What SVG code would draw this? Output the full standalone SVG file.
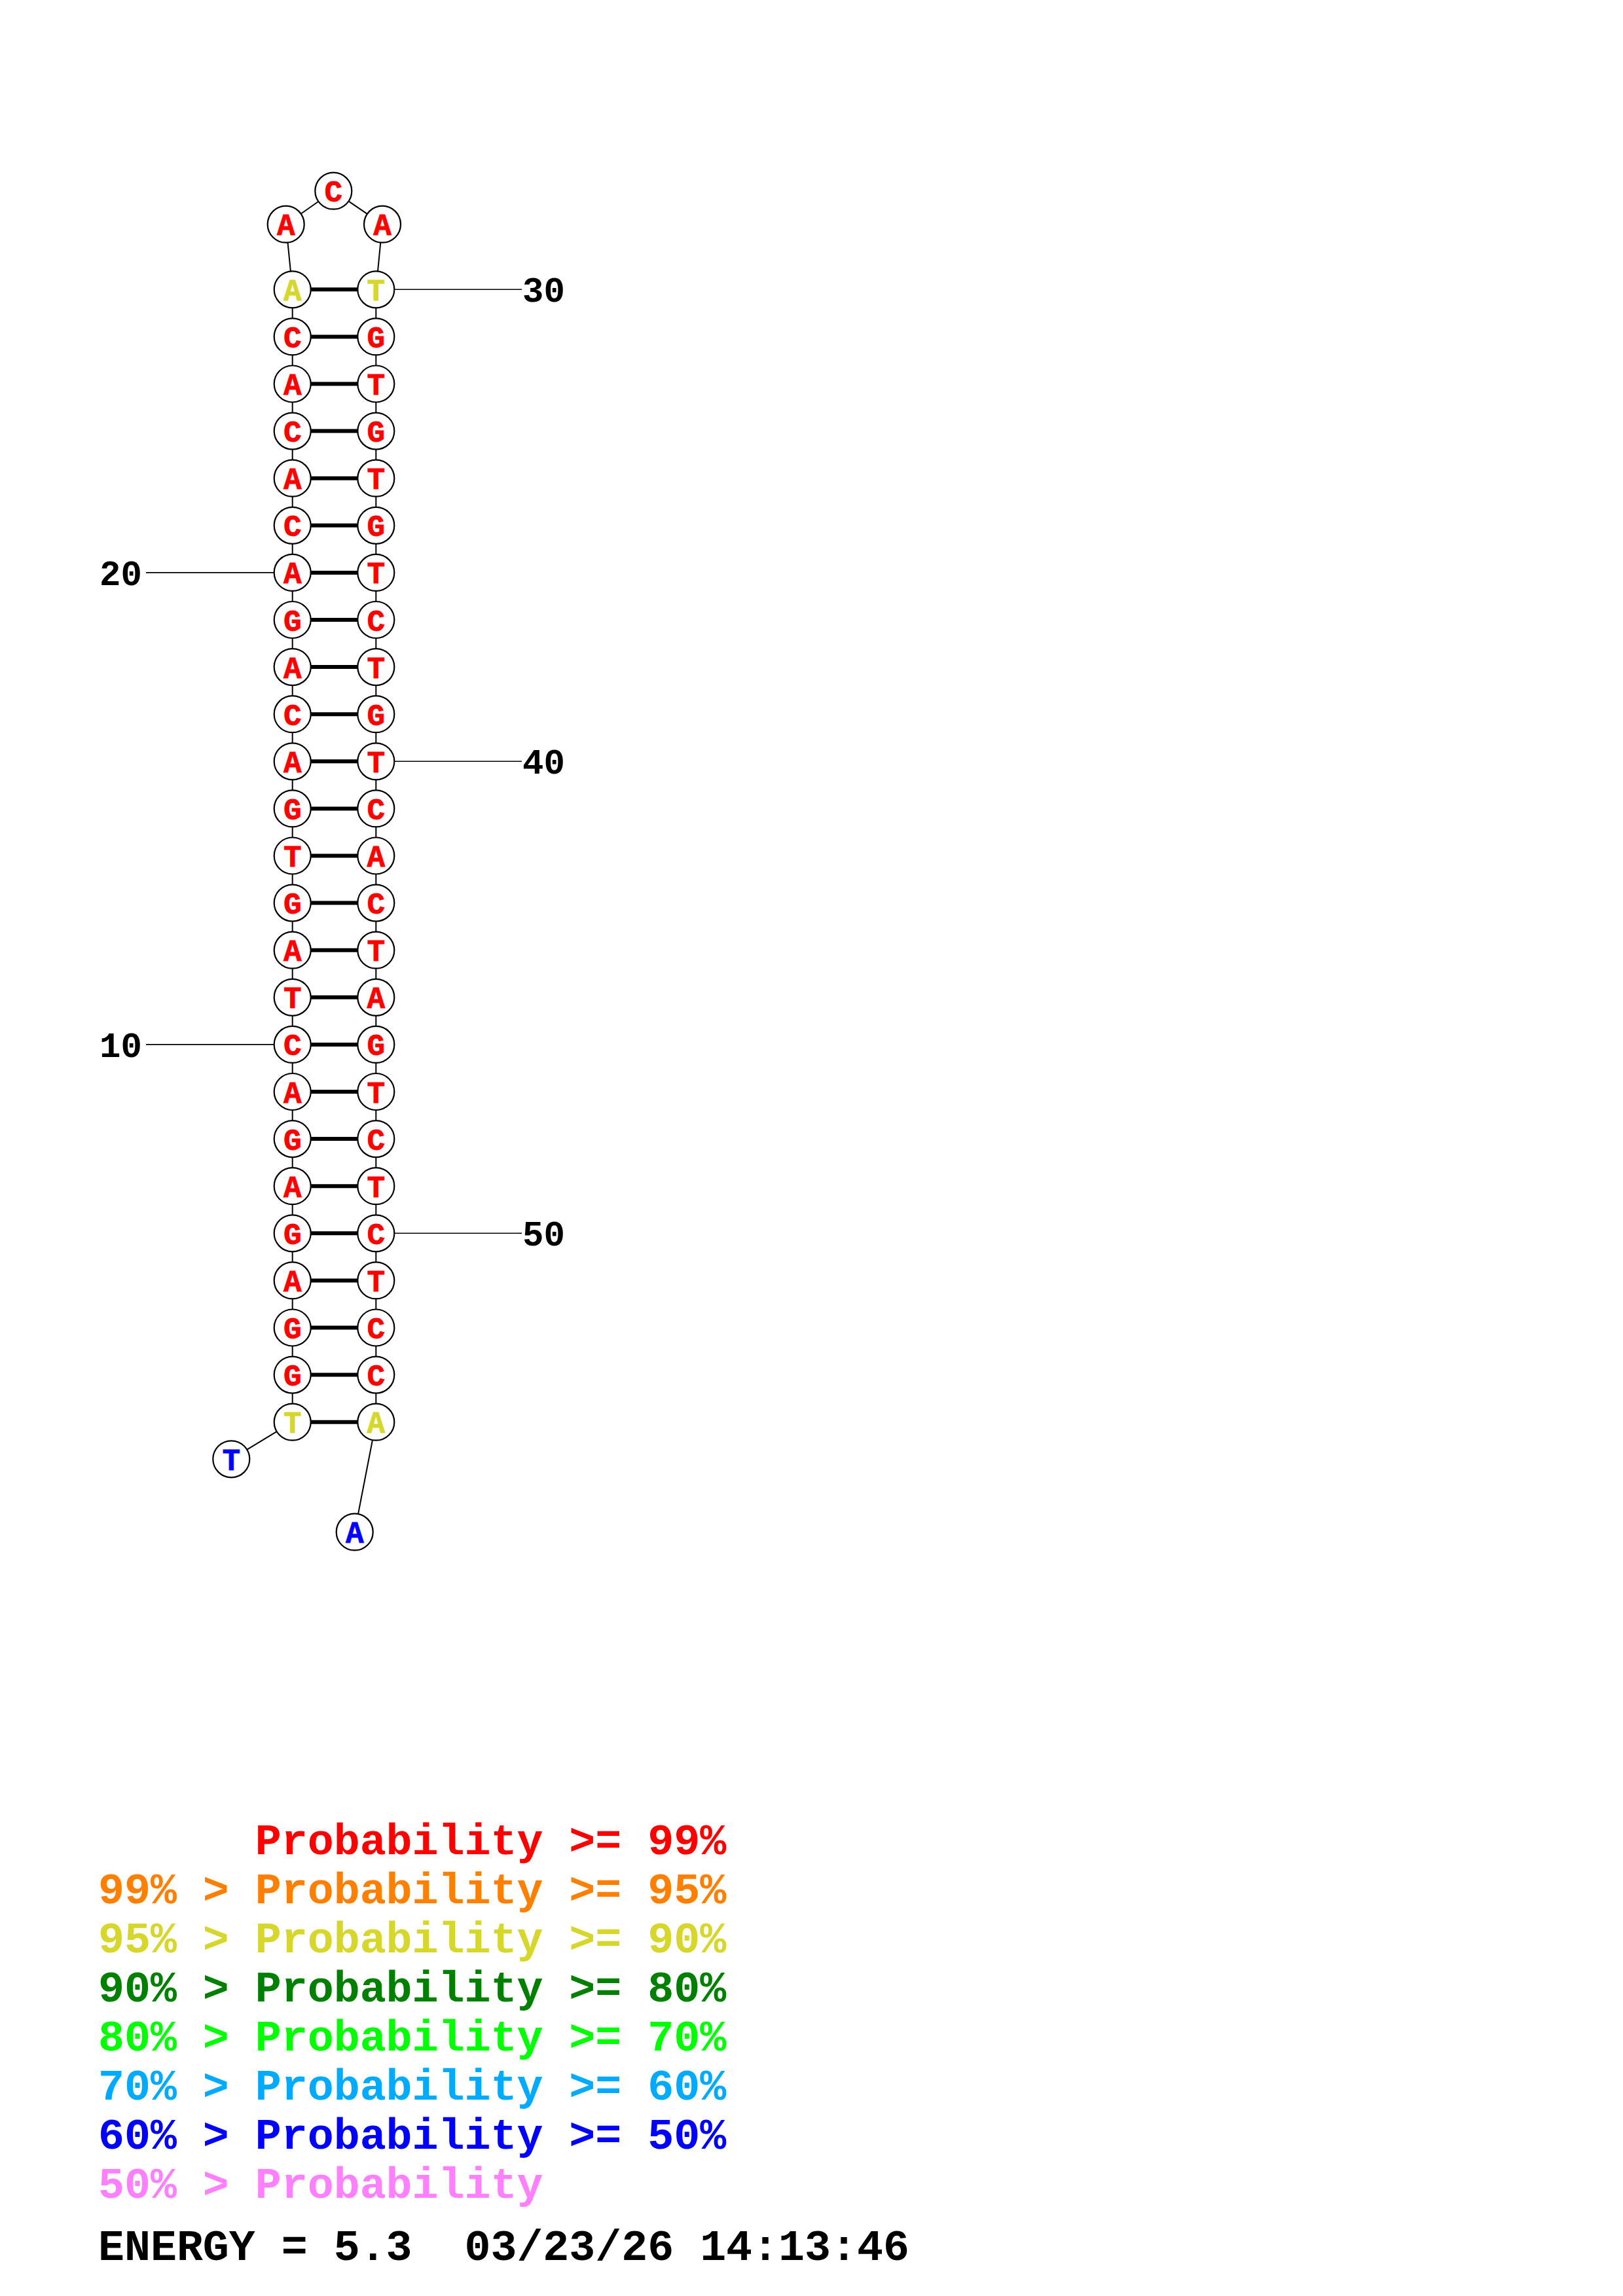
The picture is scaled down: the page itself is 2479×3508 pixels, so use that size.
<svg xmlns="http://www.w3.org/2000/svg" width="2479" height="3508" viewBox="0 0 2479 3508">
<style>
text{font-family:"Liberation Mono","DejaVu Sans Mono",monospace;font-weight:bold;}
.nc{fill:#fff;stroke:#000;stroke-width:2.2;}
.nt{font-size:46px;text-anchor:middle;stroke-width:0.8;}
.r{fill:#ff0000;stroke:#ff0000;}.o{fill:#ff8000;}.y{fill:#d6d62b;}.dg{fill:#008000;}.g{fill:#00ff00;}.lb{fill:#00aaff;}.b{fill:#0000ff;}.p{fill:#ff80ff;}
.nt.y{stroke:#d6d62b;}.nt.b{stroke:#0000ff;}
.lg.r{stroke:none;}
.bb{stroke:#000;stroke-width:2;}
.bp{stroke:#000;stroke-width:6;}
.tk{stroke:#000;stroke-width:1.6;}
.num{font-size:54px;fill:#000;}
.lg{font-size:66.6px;white-space:pre;}
</style>
<rect width="2479" height="3508" fill="#fff"/>
<g id="connectors">
<line class="bb" x1="353.3" y1="2229.3" x2="446.7" y2="2172.7"/>
<line class="bb" x1="446.7" y1="2172.7" x2="446.7" y2="442.3"/>
<line class="bb" x1="446.7" y1="442.3" x2="436.7" y2="342.7"/>
<line class="bb" x1="436.7" y1="342.7" x2="509.3" y2="291.7"/>
<line class="bb" x1="509.3" y1="291.7" x2="584" y2="342.7"/>
<line class="bb" x1="584" y1="342.7" x2="574.3" y2="442.3"/>
<line class="bb" x1="574.3" y1="442.3" x2="574.3" y2="2172.7"/>
<line class="bb" x1="574.3" y1="2172.7" x2="541.7" y2="2340.7"/>
<g id="pairs">
<line class="bp" x1="474.7" y1="442.3" x2="546.3" y2="442.3"/>
<line class="bp" x1="474.7" y1="514.4" x2="546.3" y2="514.4"/>
<line class="bp" x1="474.7" y1="586.5" x2="546.3" y2="586.5"/>
<line class="bp" x1="474.7" y1="658.6" x2="546.3" y2="658.6"/>
<line class="bp" x1="474.7" y1="730.7" x2="546.3" y2="730.7"/>
<line class="bp" x1="474.7" y1="802.8" x2="546.3" y2="802.8"/>
<line class="bp" x1="474.7" y1="874.9" x2="546.3" y2="874.9"/>
<line class="bp" x1="474.7" y1="947.0" x2="546.3" y2="947.0"/>
<line class="bp" x1="474.7" y1="1019.1" x2="546.3" y2="1019.1"/>
<line class="bp" x1="474.7" y1="1091.2" x2="546.3" y2="1091.2"/>
<line class="bp" x1="474.7" y1="1163.3" x2="546.3" y2="1163.3"/>
<line class="bp" x1="474.7" y1="1235.4" x2="546.3" y2="1235.4"/>
<line class="bp" x1="474.7" y1="1307.5" x2="546.3" y2="1307.5"/>
<line class="bp" x1="474.7" y1="1379.6" x2="546.3" y2="1379.6"/>
<line class="bp" x1="474.7" y1="1451.7" x2="546.3" y2="1451.7"/>
<line class="bp" x1="474.7" y1="1523.8" x2="546.3" y2="1523.8"/>
<line class="bp" x1="474.7" y1="1595.9" x2="546.3" y2="1595.9"/>
<line class="bp" x1="474.7" y1="1668.0" x2="546.3" y2="1668.0"/>
<line class="bp" x1="474.7" y1="1740.1" x2="546.3" y2="1740.1"/>
<line class="bp" x1="474.7" y1="1812.2" x2="546.3" y2="1812.2"/>
<line class="bp" x1="474.7" y1="1884.3" x2="546.3" y2="1884.3"/>
<line class="bp" x1="474.7" y1="1956.4" x2="546.3" y2="1956.4"/>
<line class="bp" x1="474.7" y1="2028.5" x2="546.3" y2="2028.5"/>
<line class="bp" x1="474.7" y1="2100.6" x2="546.3" y2="2100.6"/>
<line class="bp" x1="474.7" y1="2172.7" x2="546.3" y2="2172.7"/>
</g>
<g id="ticks">
<line class="tk" x1="602.3" y1="442.3" x2="797" y2="442.3"/>
<line class="tk" x1="602.3" y1="1163.3" x2="797" y2="1163.3"/>
<line class="tk" x1="602.3" y1="1884.3" x2="797" y2="1884.3"/>
<line class="tk" x1="223" y1="874.9" x2="418.7" y2="874.9"/>
<line class="tk" x1="223" y1="1595.9" x2="418.7" y2="1595.9"/>
</g>
</g>
<g id="nodes">
<g id="n1"><circle class="nc" cx="353.3" cy="2229.3" r="28"/><text class="nt b" x="353.3" y="2245.8">T</text></g>
<g id="n2"><circle class="nc" cx="446.7" cy="2172.7" r="28"/><text class="nt y" x="446.7" y="2189.2">T</text></g>
<g id="n3"><circle class="nc" cx="446.7" cy="2100.6" r="28"/><text class="nt r" x="446.7" y="2117.1">G</text></g>
<g id="n4"><circle class="nc" cx="446.7" cy="2028.5" r="28"/><text class="nt r" x="446.7" y="2045.0">G</text></g>
<g id="n5"><circle class="nc" cx="446.7" cy="1956.4" r="28"/><text class="nt r" x="446.7" y="1972.9">A</text></g>
<g id="n6"><circle class="nc" cx="446.7" cy="1884.3" r="28"/><text class="nt r" x="446.7" y="1900.8">G</text></g>
<g id="n7"><circle class="nc" cx="446.7" cy="1812.2" r="28"/><text class="nt r" x="446.7" y="1828.7">A</text></g>
<g id="n8"><circle class="nc" cx="446.7" cy="1740.1" r="28"/><text class="nt r" x="446.7" y="1756.6">G</text></g>
<g id="n9"><circle class="nc" cx="446.7" cy="1668.0" r="28"/><text class="nt r" x="446.7" y="1684.5">A</text></g>
<g id="n10"><circle class="nc" cx="446.7" cy="1595.9" r="28"/><text class="nt r" x="446.7" y="1612.4">C</text></g>
<g id="n11"><circle class="nc" cx="446.7" cy="1523.8" r="28"/><text class="nt r" x="446.7" y="1540.3">T</text></g>
<g id="n12"><circle class="nc" cx="446.7" cy="1451.7" r="28"/><text class="nt r" x="446.7" y="1468.2">A</text></g>
<g id="n13"><circle class="nc" cx="446.7" cy="1379.6" r="28"/><text class="nt r" x="446.7" y="1396.1">G</text></g>
<g id="n14"><circle class="nc" cx="446.7" cy="1307.5" r="28"/><text class="nt r" x="446.7" y="1324.0">T</text></g>
<g id="n15"><circle class="nc" cx="446.7" cy="1235.4" r="28"/><text class="nt r" x="446.7" y="1251.9">G</text></g>
<g id="n16"><circle class="nc" cx="446.7" cy="1163.3" r="28"/><text class="nt r" x="446.7" y="1179.8">A</text></g>
<g id="n17"><circle class="nc" cx="446.7" cy="1091.2" r="28"/><text class="nt r" x="446.7" y="1107.7">C</text></g>
<g id="n18"><circle class="nc" cx="446.7" cy="1019.1" r="28"/><text class="nt r" x="446.7" y="1035.6">A</text></g>
<g id="n19"><circle class="nc" cx="446.7" cy="947.0" r="28"/><text class="nt r" x="446.7" y="963.5">G</text></g>
<g id="n20"><circle class="nc" cx="446.7" cy="874.9" r="28"/><text class="nt r" x="446.7" y="891.4">A</text></g>
<g id="n21"><circle class="nc" cx="446.7" cy="802.8" r="28"/><text class="nt r" x="446.7" y="819.3">C</text></g>
<g id="n22"><circle class="nc" cx="446.7" cy="730.7" r="28"/><text class="nt r" x="446.7" y="747.2">A</text></g>
<g id="n23"><circle class="nc" cx="446.7" cy="658.6" r="28"/><text class="nt r" x="446.7" y="675.1">C</text></g>
<g id="n24"><circle class="nc" cx="446.7" cy="586.5" r="28"/><text class="nt r" x="446.7" y="603.0">A</text></g>
<g id="n25"><circle class="nc" cx="446.7" cy="514.4" r="28"/><text class="nt r" x="446.7" y="530.9">C</text></g>
<g id="n26"><circle class="nc" cx="446.7" cy="442.3" r="28"/><text class="nt y" x="446.7" y="458.8">A</text></g>
<g id="n27"><circle class="nc" cx="436.7" cy="342.7" r="28"/><text class="nt r" x="436.7" y="359.2">A</text></g>
<g id="n28"><circle class="nc" cx="509.3" cy="291.7" r="28"/><text class="nt r" x="509.3" y="308.2">C</text></g>
<g id="n29"><circle class="nc" cx="584" cy="342.7" r="28"/><text class="nt r" x="584" y="359.2">A</text></g>
<g id="n30"><circle class="nc" cx="574.3" cy="442.3" r="28"/><text class="nt y" x="574.3" y="458.8">T</text></g>
<g id="n31"><circle class="nc" cx="574.3" cy="514.4" r="28"/><text class="nt r" x="574.3" y="530.9">G</text></g>
<g id="n32"><circle class="nc" cx="574.3" cy="586.5" r="28"/><text class="nt r" x="574.3" y="603.0">T</text></g>
<g id="n33"><circle class="nc" cx="574.3" cy="658.6" r="28"/><text class="nt r" x="574.3" y="675.1">G</text></g>
<g id="n34"><circle class="nc" cx="574.3" cy="730.7" r="28"/><text class="nt r" x="574.3" y="747.2">T</text></g>
<g id="n35"><circle class="nc" cx="574.3" cy="802.8" r="28"/><text class="nt r" x="574.3" y="819.3">G</text></g>
<g id="n36"><circle class="nc" cx="574.3" cy="874.9" r="28"/><text class="nt r" x="574.3" y="891.4">T</text></g>
<g id="n37"><circle class="nc" cx="574.3" cy="947.0" r="28"/><text class="nt r" x="574.3" y="963.5">C</text></g>
<g id="n38"><circle class="nc" cx="574.3" cy="1019.1" r="28"/><text class="nt r" x="574.3" y="1035.6">T</text></g>
<g id="n39"><circle class="nc" cx="574.3" cy="1091.2" r="28"/><text class="nt r" x="574.3" y="1107.7">G</text></g>
<g id="n40"><circle class="nc" cx="574.3" cy="1163.3" r="28"/><text class="nt r" x="574.3" y="1179.8">T</text></g>
<g id="n41"><circle class="nc" cx="574.3" cy="1235.4" r="28"/><text class="nt r" x="574.3" y="1251.9">C</text></g>
<g id="n42"><circle class="nc" cx="574.3" cy="1307.5" r="28"/><text class="nt r" x="574.3" y="1324.0">A</text></g>
<g id="n43"><circle class="nc" cx="574.3" cy="1379.6" r="28"/><text class="nt r" x="574.3" y="1396.1">C</text></g>
<g id="n44"><circle class="nc" cx="574.3" cy="1451.7" r="28"/><text class="nt r" x="574.3" y="1468.2">T</text></g>
<g id="n45"><circle class="nc" cx="574.3" cy="1523.8" r="28"/><text class="nt r" x="574.3" y="1540.3">A</text></g>
<g id="n46"><circle class="nc" cx="574.3" cy="1595.9" r="28"/><text class="nt r" x="574.3" y="1612.4">G</text></g>
<g id="n47"><circle class="nc" cx="574.3" cy="1668.0" r="28"/><text class="nt r" x="574.3" y="1684.5">T</text></g>
<g id="n48"><circle class="nc" cx="574.3" cy="1740.1" r="28"/><text class="nt r" x="574.3" y="1756.6">C</text></g>
<g id="n49"><circle class="nc" cx="574.3" cy="1812.2" r="28"/><text class="nt r" x="574.3" y="1828.7">T</text></g>
<g id="n50"><circle class="nc" cx="574.3" cy="1884.3" r="28"/><text class="nt r" x="574.3" y="1900.8">C</text></g>
<g id="n51"><circle class="nc" cx="574.3" cy="1956.4" r="28"/><text class="nt r" x="574.3" y="1972.9">T</text></g>
<g id="n52"><circle class="nc" cx="574.3" cy="2028.5" r="28"/><text class="nt r" x="574.3" y="2045.0">C</text></g>
<g id="n53"><circle class="nc" cx="574.3" cy="2100.6" r="28"/><text class="nt r" x="574.3" y="2117.1">C</text></g>
<g id="n54"><circle class="nc" cx="574.3" cy="2172.7" r="28"/><text class="nt y" x="574.3" y="2189.2">A</text></g>
<g id="n55"><circle class="nc" cx="541.7" cy="2340.7" r="28"/><text class="nt b" x="541.7" y="2357.2">A</text></g>
</g>
<g id="numbers">
<text class="num" x="798" y="461">30</text>
<text class="num" x="798" y="1182">40</text>
<text class="num" x="798" y="1903">50</text>
<text class="num" x="152" y="894">20</text>
<text class="num" x="152" y="1615">10</text>
</g>
<g id="legend">
<text class="lg r" x="389.8" y="2833">Probability &gt;= 99%</text>
<text class="lg o" x="150" y="2908">99% &gt; Probability &gt;= 95%</text>
<text class="lg y" x="150" y="2983">95% &gt; Probability &gt;= 90%</text>
<text class="lg dg" x="150" y="3058">90% &gt; Probability &gt;= 80%</text>
<text class="lg g" x="150" y="3133">80% &gt; Probability &gt;= 70%</text>
<text class="lg lb" x="150" y="3208">70% &gt; Probability &gt;= 60%</text>
<text class="lg b" x="150" y="3283">60% &gt; Probability &gt;= 50%</text>
<text class="lg p" x="150" y="3358">50% &gt; Probability</text>
<text class="lg" x="150" y="3453" fill="#000" xml:space="preserve">ENERGY = 5.3  03/23/26 14:13:46</text>
</g>
</svg>
